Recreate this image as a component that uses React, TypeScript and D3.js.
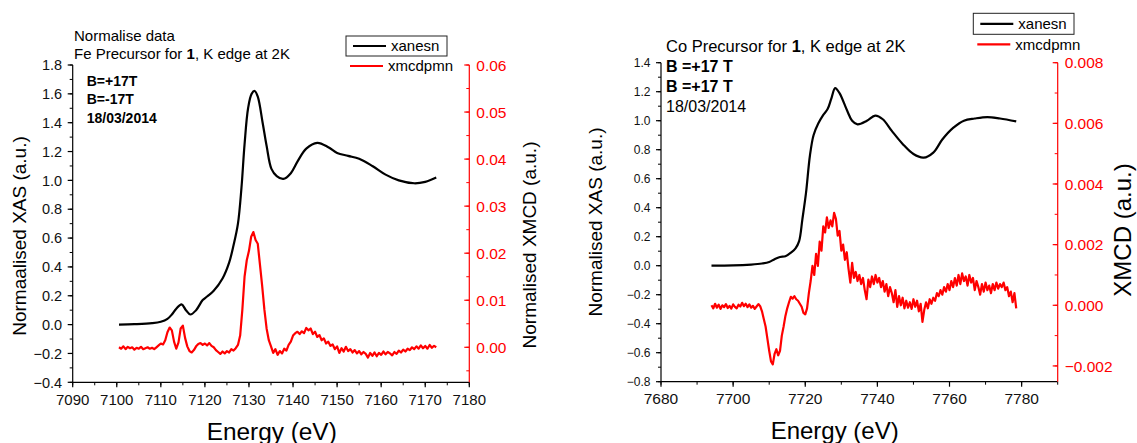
import React from 'react';
import * as d3 from 'd3';

// ---------- Fe panel data ----------
const feXanesE = [7100.5, 7104, 7108, 7110, 7111.5, 7112.5, 7113.5, 7114.7, 7115.7, 7116.7, 7118, 7119.5, 7120.5, 7122, 7124, 7125.5, 7126.5, 7127.5, 7128.3, 7129, 7129.8, 7130.6, 7131.3, 7132, 7133.1, 7134, 7135.1, 7136.3, 7137.8, 7139.5, 7141, 7143, 7145.5, 7148, 7150, 7152.5, 7155, 7158, 7161, 7164, 7167.5, 7170, 7172.5];
const feXanes = [0.0, 0.003, 0.01, 0.02, 0.04, 0.07, 0.11, 0.14, 0.1, 0.07, 0.1, 0.17, 0.195, 0.235, 0.32, 0.43, 0.55, 0.7, 0.95, 1.25, 1.5, 1.6, 1.62, 1.58, 1.4, 1.24, 1.08, 1.03, 1.01, 1.05, 1.13, 1.22, 1.26, 1.23, 1.19, 1.17, 1.15, 1.1, 1.04, 1.0, 0.98, 0.99, 1.02];
const feXmcdStart = 7100.5;
const feXmcd = [
  0.0000, -0.0003, 0.0002, -0.0004, 0.0001, -0.0002, 0.0000, -0.0005, -0.0001, -0.0003,
  0.0001, -0.0004, -0.0002, 0.0000, -0.0003, -0.0001, -0.0004, 0.0000, 0.0004, 0.0008,
  0.0006, 0.0015, 0.0032, 0.0042, 0.0036, 0.0012, -0.0003, 0.0010, 0.0040, 0.0046,
  0.0020, 0.0002, -0.0008, -0.0011, -0.0006, 0.0002, 0.0007, 0.0009, 0.0005, 0.0008,
  0.0004, 0.0009, 0.0003, 0.0000, -0.0006, -0.0010, -0.0014, -0.0009, -0.0013, -0.0008,
  -0.0011, -0.0004, -0.0007, -0.0002, 0.0005, 0.0025, 0.0080, 0.0150, 0.0185, 0.0205,
  0.0235, 0.0245, 0.0228, 0.0220, 0.0175, 0.0130, 0.0080, 0.0040, 0.0015, 0.0002,
  -0.0012, -0.0004, -0.0016, -0.0008, -0.0013, -0.0003, -0.0007, 0.0005, 0.0012, 0.0025,
  0.0030, 0.0033, 0.0028, 0.0034, 0.0030, 0.0041, 0.0036, 0.0040, 0.0028, 0.0033,
  0.0022, 0.0026, 0.0015, 0.0019, 0.0008, 0.0012, 0.0003, 0.0006, -0.0004, 0.0002,
  -0.0012, -0.0002, -0.0009, 0.0001, -0.0008, -0.0004, -0.0011, -0.0006, -0.0013, -0.0008,
  -0.0015, -0.0010, -0.0014, -0.0022, -0.0012, -0.0018, -0.0011, -0.0019, -0.0012, -0.0016,
  -0.0009, -0.0015, -0.0010, -0.0013, -0.0017, -0.0010, -0.0014, -0.0007, -0.0011, -0.0005,
  -0.0009, -0.0003, -0.0006, 0.0000, -0.0004, 0.0002, -0.0003, 0.0004, -0.0002, 0.0003,
  -0.0003, 0.0005, -0.0001, 0.0003, 0.0000,
];
const feXTicks = [7090, 7100, 7110, 7120, 7130, 7140, 7150, 7160, 7170, 7180];
const feYLTicks = [-0.4, -0.2, 0.0, 0.2, 0.4, 0.6, 0.8, 1.0, 1.2, 1.4, 1.6, 1.8];
const feYRTicks = [0.0, 0.01, 0.02, 0.03, 0.04, 0.05, 0.06];

// ---------- Co panel data ----------
const coXanesE = [7694, 7700, 7705, 7708, 7710, 7711.5, 7713, 7714.5, 7716, 7717.3, 7718.3, 7719.2, 7720.2, 7721.3, 7722.3, 7723.6, 7725, 7726.2, 7727.2, 7728.3, 7729.5, 7731.6, 7733, 7734.5, 7737.1, 7739.4, 7741.5, 7744, 7747, 7750, 7752.8, 7755.5, 7758, 7761, 7764, 7767, 7770.5, 7774, 7778.5];
const coXanes = [0.0, 0.002, 0.008, 0.015, 0.025, 0.045, 0.06, 0.065, 0.09, 0.12, 0.17, 0.32, 0.5, 0.76, 0.9, 0.98, 1.04, 1.08, 1.15, 1.225, 1.19, 1.07, 1.0, 0.975, 1.0, 1.035, 1.01, 0.93, 0.84, 0.77, 0.745, 0.78, 0.87, 0.95, 1.0, 1.015, 1.025, 1.015, 0.995];
const coXmcdStart = 7694;
const coXmcd = [
  0.00000, -0.00010, 0.00005, -0.00008, 0.00002, -0.00012, 0.00000, -0.00006, 0.00004, -0.00009,
  -0.00002, -0.00011, 0.00003, -0.00005, -0.00010, 0.00002, -0.00004, 0.00008, -0.00003, 0.00005,
  -0.00006, 0.00003, -0.00008, -0.00002, -0.00012, -0.00004, 0.00004, -0.00003, -0.00020, -0.00045,
  -0.00070, -0.00110, -0.00150, -0.00185, -0.00195, -0.00160, -0.00145, -0.00165, -0.00150, -0.00100,
  -0.00070, -0.00035, -0.00010, 0.00010, 0.00028, 0.00022, 0.00030, 0.00020, 0.00015, 0.00005,
  -0.00005, -0.00025, -0.00030, -0.00010, 0.00040, 0.00080, 0.00130, 0.00100, 0.00170, 0.00130,
  0.00210, 0.00180, 0.00260, 0.00240, 0.00290, 0.00255, 0.00280, 0.00260, 0.00305, 0.00285,
  0.00230, 0.00245, 0.00180, 0.00200, 0.00150, 0.00175, 0.00120, 0.00075, 0.00140, 0.00090,
  0.00110, 0.00080, 0.00100, 0.00070, 0.00090, 0.00050, 0.00020, 0.00085, 0.00060, 0.00095,
  0.00070, 0.00100, 0.00075, 0.00090, 0.00060, 0.00080, 0.00045, 0.00070, 0.00030, 0.00060,
  0.00040, 0.00010, 0.00050, -0.00005, 0.00030, 0.00000, 0.00025, -0.00010, 0.00015, -0.00008,
  0.00010, -0.00012, 0.00020, -0.00005, 0.00015, -0.00020, 0.00005, -0.00055, -0.00015, 0.00010,
  -0.00010, 0.00020, 0.00005, 0.00025, 0.00015, 0.00040, 0.00030, 0.00050, 0.00035, 0.00060,
  0.00045, 0.00070, 0.00050, 0.00080, 0.00060, 0.00090, 0.00065, 0.00100, 0.00070, 0.00105,
  0.00080, 0.00095, 0.00065, 0.00100, 0.00075, 0.00090, 0.00050, 0.00080, 0.00060, 0.00035,
  0.00070, 0.00045, 0.00075, 0.00050, 0.00065, 0.00040, 0.00070, 0.00050, 0.00075, 0.00055,
  0.00070, 0.00060, 0.00075, 0.00050, 0.00060, 0.00030, 0.00045, 0.00010, 0.00040, -0.00010,
];
const coXTicks = [7680, 7700, 7720, 7740, 7760, 7780];
const coYLTicks = [-0.8, -0.6, -0.4, -0.2, 0.0, 0.2, 0.4, 0.6, 0.8, 1.0, 1.2, 1.4];
const coYRTicks = [-0.002, 0.0, 0.002, 0.004, 0.006, 0.008];

const legendNames = ['xanesn', 'xmcdpmn'];
const RED = '#ff0000';
const FONT = 'Liberation Sans, Arial, sans-serif';

type PanelProps = {
  box: { left: number; right: number; top: number; bottom: number };
  xDomain: [number, number];
  yLDomain: [number, number];
  yRDomain: [number, number];
  xTicks: number[]; xMinorStep: number;
  yLTicks: number[]; yLMinorStep: number;
  yRTicks: number[]; yRMinorStep: number;
  yLFmt: string; yRFmt: string;
  xanesE: number[]; xanes: number[];
  xmcdStart: number; xmcd: number[];
  fs: { xTick: number; yLTick: number; yRTick: number };
};

function minorTicks(domain: [number, number], step: number) {
  const a = Math.ceil(domain[0] / step - 1e-9);
  const b = Math.floor(domain[1] / step + 1e-9);
  return d3.range(a, b + 1).map((k) => k * step);
}

function Panel(p: PanelProps) {
  const { left, right, top, bottom } = p.box;
  const x = d3.scaleLinear().domain(p.xDomain).range([left, right]);
  const yL = d3.scaleLinear().domain(p.yLDomain).range([bottom, top]);
  const yR = d3.scaleLinear().domain(p.yRDomain).range([bottom, top]);
  const fL = d3.format(p.yLFmt);
  const fR = d3.format(p.yRFmt);
  const xanesPath = d3
    .line<number>()
    .x((_, i) => x(p.xanesE[i]))
    .y((d) => yL(d))
    .curve(d3.curveCatmullRom.alpha(0.5))(p.xanes) as string;
  const xmcdPath = d3
    .line<number>()
    .x((_, i) => x(p.xmcdStart + 0.5 * i))
    .y((d) => yR(d))(p.xmcd) as string;
  const minX = minorTicks(p.xDomain, p.xMinorStep);
  const minYL = minorTicks(p.yLDomain, p.yLMinorStep);
  const minYR = minorTicks(p.yRDomain, p.yRMinorStep);
  return (
    <g>
      <path d={xmcdPath} fill="none" stroke={RED} strokeWidth={2.2} strokeLinejoin="round" />
      <path d={xanesPath} fill="none" stroke="#000" strokeWidth={2.2} />
      {/* bottom axis */}
      <line x1={left} x2={right} y1={bottom} y2={bottom} stroke="#000" strokeWidth={1.2} />
      {minX.map((t) => (
        <line key={'mx' + t} x1={x(t)} x2={x(t)} y1={bottom} y2={bottom + 3} stroke="#000" strokeWidth={1} />
      ))}
      {p.xTicks.map((t) => (
        <g key={'x' + t}>
          <line x1={x(t)} x2={x(t)} y1={bottom} y2={bottom + 5} stroke="#000" strokeWidth={1.2} />
          <text x={x(t)} y={bottom + 22.5} textAnchor="middle" fontSize={p.fs.xTick} fill="#111" fontFamily={FONT}>
            {t}
          </text>
        </g>
      ))}
      {/* left axis */}
      <line x1={left} x2={left} y1={top} y2={bottom} stroke="#000" strokeWidth={1.2} />
      {minYL.map((t) => (
        <line key={'ml' + t} x1={left - 3} x2={left} y1={yL(t)} y2={yL(t)} stroke="#000" strokeWidth={1} />
      ))}
      {p.yLTicks.map((t) => (
        <g key={'l' + t}>
          <line x1={left - 5} x2={left} y1={yL(t)} y2={yL(t)} stroke="#000" strokeWidth={1.2} />
          <text x={left - 10.5} y={yL(t)} dy="0.36em" textAnchor="end" fontSize={p.fs.yLTick} fill="#111" fontFamily={FONT}>
            {fL(t)}
          </text>
        </g>
      ))}
      {/* right axis */}
      <line x1={right} x2={right} y1={top} y2={bottom} stroke={RED} strokeWidth={1.2} />
      {minYR.map((t) => (
        <line key={'mr' + t} x1={right - 3} x2={right} y1={yR(t)} y2={yR(t)} stroke={RED} strokeWidth={1} />
      ))}
      {p.yRTicks.map((t) => (
        <g key={'r' + t}>
          <line x1={right - 5} x2={right} y1={yR(t)} y2={yR(t)} stroke={RED} strokeWidth={1.2} />
          <text x={right + 7} y={yR(t)} dy="0.36em" textAnchor="start" fontSize={p.fs.yRTick} fill={RED} fontFamily={FONT}>
            {fR(t)}
          </text>
        </g>
      ))}
    </g>
  );
}

function Legend({ x0, y0, w, h, fs }: { x0: number; y0: number; w: number; h: number; fs: number }) {
  return (
    <g fontFamily={FONT} fontSize={fs}>
      <rect x={x0} y={y0} width={w} height={h} fill="#fff" stroke="#222" strokeWidth={1} />
      <line x1={x0 + 7} x2={x0 + 40} y1={y0 + h / 2} y2={y0 + h / 2} stroke="#000" strokeWidth={2.2} />
      <text x={x0 + 45} y={y0 + h / 2 + 5.3} fill="#000">{legendNames[0]}</text>
      <line x1={x0 + 4} x2={x0 + 37} y1={y0 + h + 10} y2={y0 + h + 10} stroke={RED} strokeWidth={2.2} />
      <text x={x0 + 42} y={y0 + h + 15.3} fill="#000">{legendNames[1]}</text>
    </g>
  );
}

export default function App() {
  return (
    <svg width={1137} height={443} style={{ position: 'absolute', left: 0, top: 0, background: '#fff' }}>
      <rect width={1137} height={443} fill="#fff" />
      {/* Fe panel */}
      <Panel
        box={{ left: 72.7, right: 469.3, top: 65, bottom: 382.3 }}
        xDomain={[7090, 7180]}
        yLDomain={[-0.4, 1.8]}
        yRDomain={[-0.00744, 0.06]}
        xTicks={feXTicks} xMinorStep={5}
        yLTicks={feYLTicks} yLMinorStep={0.1}
        yRTicks={feYRTicks} yRMinorStep={0.005}
        yLFmt=".1f" yRFmt=".2f"
        xanesE={feXanesE} xanes={feXanes}
        xmcdStart={feXmcdStart} xmcd={feXmcd}
        fs={{ xTick: 15, yLTick: 14.5, yRTick: 15.5 }}
      />
      <g fontFamily={FONT} fill="#000">
        <text x={74} y={40.7} fontSize={15}>Normalise data</text>
        <text x={74} y={59.3} fontSize={15}>
          Fe Precursor for <tspan fontWeight="bold">1</tspan>, K edge at 2K
        </text>
        <text x={86.7} y={86} fontSize={14} fontWeight="bold">B=+17T</text>
        <text x={86.7} y={104.3} fontSize={14} fontWeight="bold">B=-17T</text>
        <text x={86.7} y={122.5} fontSize={14} fontWeight="bold">18/03/2014</text>
        <text transform="translate(26,236) rotate(-90)" textAnchor="middle" fontSize={19}>Normaalised XAS (a.u.)</text>
        <text transform="translate(536,245) rotate(-90)" textAnchor="middle" fontSize={19}>Normalised XMCD (a.u.)</text>
        <text x={271.7} y={439.5} textAnchor="middle" fontSize={24.4}>Energy (eV)</text>
      </g>
      <Legend x0={346} y0={36} w={101} h={20} fs={15} />

      {/* Co panel */}
      <Panel
        box={{ left: 661, right: 1057.7, top: 62.7, bottom: 381.7 }}
        xDomain={[7680, 7790]}
        yLDomain={[-0.8, 1.4]}
        yRDomain={[-0.00252, 0.008]}
        xTicks={coXTicks} xMinorStep={10}
        yLTicks={coYLTicks} yLMinorStep={0.1}
        yRTicks={coYRTicks} yRMinorStep={0.001}
        yLFmt=".1f" yRFmt=".3f"
        xanesE={coXanesE} xanes={coXanes}
        xmcdStart={coXmcdStart} xmcd={coXmcd}
        fs={{ xTick: 15.5, yLTick: 12, yRTick: 15.5 }}
      />
      <g fontFamily={FONT} fill="#000">
        <text x={666} y={52.3} fontSize={16.5}>
          Co Precursor for <tspan fontWeight="bold">1</tspan>, K edge at 2K
        </text>
        <text x={666} y={71.7} fontSize={16} fontWeight="bold">B =+17 T</text>
        <text x={666} y={92.3} fontSize={16} fontWeight="bold">B =+17 T</text>
        <text x={666} y={112.3} fontSize={16}>18/03/2014</text>
        <text transform="translate(602,222) rotate(-90)" textAnchor="middle" fontSize={19}>Normalised XAS (a.u.)</text>
        <text transform="translate(1131,230) rotate(-90)" textAnchor="middle" fontSize={24}>XMCD (a.u.)</text>
        <text x={834.7} y={438.5} textAnchor="middle" fontSize={24}>Energy (eV)</text>
      </g>
      <Legend x0={973.3} y0={13.3} w={100.7} h={21} fs={15} />
    </svg>
  );
}
